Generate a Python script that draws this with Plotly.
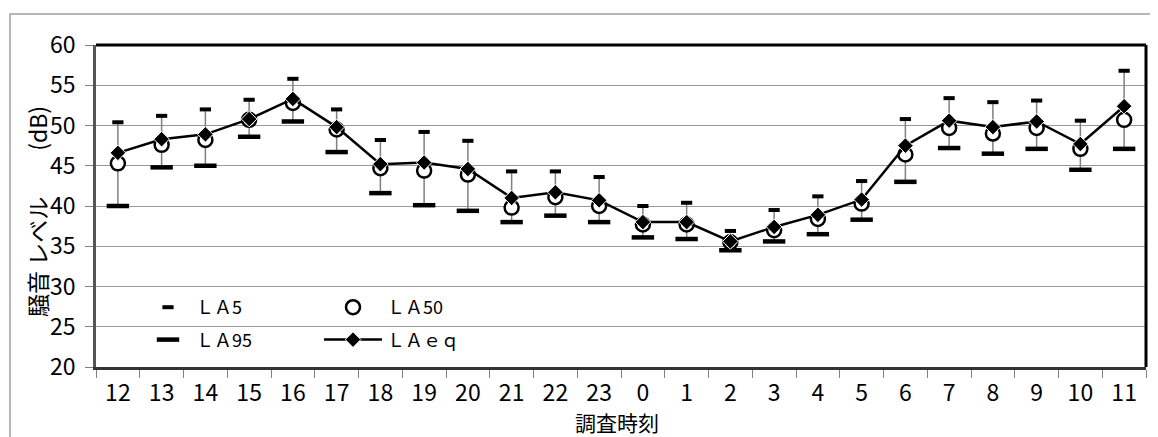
import plotly.graph_objects as go

hours = ["12", "13", "14", "15", "16", "17", "18", "19", "20", "21", "22", "23",
         "0", "1", "2", "3", "4", "5", "6", "7", "8", "9", "10", "11"]
LA5 = [50.4, 51.2, 52.0, 53.2, 55.8, 52.0, 48.2, 49.2, 48.1, 44.3, 44.3, 43.6,
       40.0, 40.4, 36.9, 39.5, 41.2, 43.1, 50.8, 53.4, 52.9, 53.1, 50.6, 56.8]
LA50 = [45.3, 47.6, 48.2, 50.7, 52.8, 49.5, 44.7, 44.4, 43.9, 39.8, 41.1, 40.0,
        37.7, 37.7, 35.5, 37.0, 38.4, 40.3, 46.4, 49.7, 49.0, 49.7, 47.1, 50.7]
LAeq = [46.6, 48.3, 48.9, 50.8, 53.3, 49.8, 45.2, 45.4, 44.6, 41.0, 41.7, 40.7,
        38.0, 38.0, 35.6, 37.4, 38.9, 40.8, 47.5, 50.6, 49.8, 50.5, 47.7, 52.4]
LA95 = [40.0, 44.8, 45.0, 48.6, 50.5, 46.7, 41.6, 40.1, 39.4, 38.0, 38.8, 38.0,
        36.1, 35.9, 34.5, 35.6, 36.5, 38.3, 43.0, 47.2, 46.5, 47.1, 44.5, 47.1]

names = {"LA5": "ＬＡ5", "LA50": "ＬＡ50", "LA95": "ＬＡ95", "LAeq": "ＬＡｅｑ"}
FONT = "Noto Sans CJK JP"

# high-low lines (LA95 -> LA5)
hx, hy = [], []
for h, lo, hi in zip(hours, LA95, LA5):
    hx += [h, h, None]
    hy += [lo, hi, None]

fig = go.Figure()
fig.add_trace(go.Scatter(x=hx, y=hy, mode="lines", line=dict(color="#808080", width=1.5),
                         showlegend=False, hoverinfo="skip"))
fig.add_trace(go.Scatter(x=hours, y=LA5, name=names["LA5"], mode="markers",
                         marker=dict(symbol="line-ew", size=8, color="black",
                                     line=dict(color="black", width=4)),
                         legend="legend", legendgroup="a"))
fig.add_trace(go.Scatter(x=hours, y=LA95, name=names["LA95"], mode="markers",
                         marker=dict(symbol="line-ew", size=16, color="black",
                                     line=dict(color="black", width=4.5)),
                         legend="legend", legendgroup="b"))
fig.add_trace(go.Scatter(x=hours, y=LA50, name=names["LA50"], mode="markers",
                         marker=dict(symbol="circle", size=14, color="white",
                                     line=dict(color="black", width=2.5)),
                         legend="legend2", legendgroup="c"))
fig.add_trace(go.Scatter(x=hours, y=LAeq, name=names["LAeq"], mode="lines+markers",
                         line=dict(color="black", width=2.5),
                         marker=dict(symbol="diamond", size=12, color="black",
                                     line=dict(color="white", width=1)),
                         legend="legend2", legendgroup="d"))

# page body has an 8px margin: figure is sized/offset to compensate
OFF = 8
W, H = 1158 - OFF, 437 - OFF
PL, PR, PT, PB = 96, 1146, 45, 367          # plot area in page pixels
L, T = PL - OFF, PT - OFF
R, B = W - (PR - OFF), H - (PB - OFF)
pw, ph = PR - PL, PB - PT


def px(x):
    return (x - PL) / pw


def py(y):
    return (PB - y) / ph


fig.update_layout(
    width=W, height=H, autosize=False,
    margin=dict(l=L, r=R, t=T, b=B),
    paper_bgcolor="white", plot_bgcolor="white",
    font=dict(family=FONT, color="black"),
    xaxis=dict(type="category", categoryorder="array", categoryarray=hours,
               tickson="boundaries", ticks="outside", ticklen=8, tickcolor="#808080",
               tickwidth=1, showgrid=False, showline=True, linecolor="#333333",
               linewidth=3, tickfont=dict(size=23, family=FONT), ticklabelstandoff=3,
               range=[-0.5, 23.5], zeroline=False),
    yaxis=dict(range=[20, 60], dtick=5, ticks="outside", ticklen=8, tickcolor="#808080",
               showgrid=True, gridcolor="#999999", gridwidth=1, showline=True,
               linecolor="#555555", linewidth=2.5, tickfont=dict(size=23, family=FONT),
               ticklabelstandoff=5, zeroline=False),
    legend=dict(x=px(140), y=py(289), xanchor="left", yanchor="top",
                bgcolor="rgba(0,0,0,0)", borderwidth=0, tracegroupgap=6,
                font=dict(size=18, family=FONT), itemwidth=46),
    legend2=dict(x=px(319), y=py(289), xanchor="left", yanchor="top",
                 bgcolor="rgba(0,0,0,0)", borderwidth=0, tracegroupgap=6,
                 font=dict(size=18, family=FONT), itemwidth=58),
    annotations=[
        dict(text="騒音 レベル　　(dB)", textangle=-90, xref="paper", yref="paper",
             x=px(37), y=py(212), showarrow=False, font=dict(size=23, family=FONT),
             xanchor="center", yanchor="middle"),
        dict(text="調査時刻", xref="paper", yref="paper", x=px(617), y=py(422),
             showarrow=False, font=dict(size=21, family=FONT), borderpad=0,
             xanchor="center", yanchor="middle"),
    ],
    shapes=[
        # white area behind the legends
        dict(type="rect", xref="paper", yref="paper", x0=px(118), x1=px(490),
             y0=py(358), y1=py(291), fillcolor="white", line=dict(width=0),
             layer="between"),
        # top and right plot borders
        dict(type="line", xref="paper", yref="paper", x0=0, x1=1, y0=1, y1=1,
             line=dict(color="black", width=3)),
        dict(type="line", xref="paper", yref="paper", x0=1, x1=1, y0=0, y1=1,
             line=dict(color="black", width=3)),
        # outer chart frame
        dict(type="rect", xref="paper", yref="paper", x0=px(10), x1=px(1200),
             y0=py(470), y1=py(14), fillcolor="rgba(0,0,0,0)",
             line=dict(color="#a0a0a0", width=1.5), layer="below"),
    ],
)

fig.write_html("out.html")
